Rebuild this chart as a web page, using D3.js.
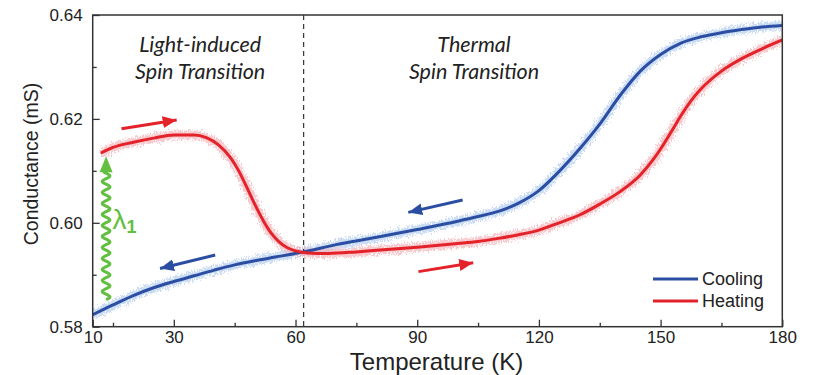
<!DOCTYPE html>
<html>
<head>
<meta charset="utf-8">
<script src="https://cdn.jsdelivr.net/npm/d3@7/dist/d3.min.js"></script>
<style>
  html, body { margin: 0; padding: 0; background: #fff; }
  svg { display: block; }
</style>
</head>
<body>
<svg id="chart" width="813" height="375"></svg>
<script>
// Conductance vs temperature, cooling and heating sweeps
const coolingT = [10, 15, 20, 25, 30, 35, 40, 45, 50, 55, 62, 70, 80, 90, 100, 105, 110, 115, 120, 125, 130, 135, 140, 145, 150, 155, 160, 165, 170, 175, 180];
const coolingG = [0.5823, 0.5842, 0.5860, 0.5875, 0.5887, 0.5898, 0.5909, 0.5919, 0.5927, 0.5934, 0.5944, 0.5958, 0.5972, 0.5987, 0.6003, 0.6012, 0.6022, 0.6038, 0.6062, 0.6099, 0.6142, 0.6190, 0.6245, 0.6292, 0.6324, 0.6346, 0.6358, 0.6366, 0.6372, 0.6377, 0.6380];

const heatingT = [12, 15, 20, 25, 30, 35, 38, 41, 44, 46, 48, 50, 52, 54, 56, 58, 60, 63, 68, 75, 80, 90, 100, 105, 110, 115, 120, 125, 130, 135, 140, 145, 148, 150, 153, 155, 158, 160, 165, 170, 175, 180];
const heatingG = [0.6134, 0.6145, 0.6155, 0.6163, 0.6169, 0.6169, 0.6164, 0.6150, 0.6125, 0.6100, 0.6068, 0.6035, 0.6005, 0.5980, 0.5963, 0.5952, 0.5946, 0.5942, 0.5941, 0.5944, 0.5947, 0.5953, 0.5960, 0.5964, 0.5970, 0.5977, 0.5986, 0.6000, 0.6015, 0.6036, 0.6060, 0.6092, 0.6120, 0.6142, 0.6180, 0.6206, 0.6240, 0.6258, 0.6292, 0.6316, 0.6335, 0.6352];

const xMajorTicks = [10, 30, 60, 90, 120, 150, 180];
const xMinorTicks = [15, 45, 75, 105, 135, 165];
const yMajorTicks = [0.58, 0.60, 0.62, 0.64];
const yMinorTicks = [0.59, 0.61, 0.63];

const regionBoundaryT = 62;
const regionTitles = [
  { T: 36.5, lines: ["Light-induced", "Spin Transition"] },
  { T: 104, lines: ["Thermal", "Spin Transition"] }
];

// sweep-direction arrows: [T, G] start and end
const sweepArrows = [
  { series: "heating", from: [17.1, 0.6181], to: [30.7, 0.6198] },
  { series: "cooling", from: [40.2, 0.5938], to: [26.6, 0.5912] },
  { series: "cooling", from: [101.2, 0.6044], to: [87.8, 0.6020] },
  { series: "heating", from: [90.3, 0.5906], to: [103.8, 0.5923] }
];

// photo-excitation arrow (λ1) from the cooling branch up to the heating start
const lightArrow = { T: 13.3, from: 0.5852, to: 0.6128 };
const lightLabel = { T: 14.9, G: 0.5988 };

const legendItems = [
  { series: "cooling", label: "Cooling" },
  { series: "heating", label: "Heating" }
];

const colors = {
  cooling: "#2b4ea3",
  heating: "#e4222a",
  coolingRaw: "#a9c7ee",
  heatingRaw: "#f4a5ab",
  light: "#62bf40",
  axis: "#333333",
  text: "#222222"
};

const W = 813, H = 375;
const margin = { left: 92.7, top: 15, right: 30.7, bottom: 48.3 };
const plotW = W - margin.left - margin.right;
const plotH = H - margin.top - margin.bottom;

const svg = d3.select("#chart");
const defs = svg.append("defs");

// grainy texture for the raw-data bands
const grain = defs.append("filter").attr("id", "grain")
  .attr("filterUnits", "userSpaceOnUse")
  .attr("x", 0).attr("y", 0).attr("width", W).attr("height", H);
grain.append("feTurbulence").attr("type", "fractalNoise")
  .attr("baseFrequency", "1.3 0.45").attr("numOctaves", 2).attr("seed", 11).attr("result", "noise");
grain.append("feDisplacementMap").attr("in", "SourceGraphic").attr("in2", "noise")
  .attr("scale", 11).attr("xChannelSelector", "R").attr("yChannelSelector", "G").attr("result", "disp");
grain.append("feGaussianBlur").attr("in", "disp").attr("stdDeviation", 0.5);

const clip = defs.append("clipPath").attr("id", "plotClip");
clip.append("rect").attr("x", margin.left).attr("y", margin.top).attr("width", plotW).attr("height", plotH);

function arrowMarker(id, color, len, wid) {
  defs.append("marker").attr("id", id)
    .attr("markerUnits", "userSpaceOnUse")
    .attr("viewBox", `0 ${-wid / 2} ${len} ${wid}`)
    .attr("refX", len).attr("refY", 0)
    .attr("markerWidth", len).attr("markerHeight", wid)
    .attr("orient", "auto")
    .append("path").attr("d", `M0,${-wid / 2}L${len},0L0,${wid / 2}Z`).attr("fill", color);
}
arrowMarker("head-cooling", colors.cooling, 14, 12);
arrowMarker("head-heating", colors.heating, 14, 12);

const x = d3.scaleLinear().domain([10, 180]).range([margin.left, margin.left + plotW]);
const y = d3.scaleLinear().domain([0.58, 0.64]).range([margin.top + plotH, margin.top]);

const cooling = coolingT.map((t, i) => [t, coolingG[i]]);
const heating = heatingT.map((t, i) => [t, heatingG[i]]);

const line = d3.line().x(d => x(d[0])).y(d => y(d[1])).curve(d3.curveMonotoneX);

const plot = svg.append("g").attr("clip-path", "url(#plotClip)");

// raw-data bands
[["coolingRaw", cooling], ["heatingRaw", heating]].forEach(([key, data]) => {
  plot.append("path").attr("d", line(data))
    .attr("fill", "none").attr("stroke", colors[key]).attr("stroke-width", 9)
    .attr("stroke-opacity", 0.6).attr("filter", "url(#grain)");
});

// region boundary
plot.append("line")
  .attr("x1", x(regionBoundaryT)).attr("x2", x(regionBoundaryT))
  .attr("y1", margin.top).attr("y2", margin.top + plotH)
  .attr("stroke", colors.axis).attr("stroke-width", 1.2).attr("stroke-dasharray", "5,4");

// smoothed curves
plot.append("path").attr("d", line(cooling))
  .attr("fill", "none").attr("stroke", colors.cooling).attr("stroke-width", 3);
plot.append("path").attr("d", line(heating))
  .attr("fill", "none").attr("stroke", colors.heating).attr("stroke-width", 3);

// sweep arrows
svg.append("g").selectAll("line").data(sweepArrows).join("line")
  .attr("x1", d => x(d.from[0])).attr("y1", d => y(d.from[1]))
  .attr("x2", d => x(d.to[0])).attr("y2", d => y(d.to[1]))
  .attr("stroke", d => colors[d.series]).attr("stroke-width", 3)
  .attr("marker-end", d => `url(#head-${d.series})`);

// wavy light arrow
{
  const lx = x(lightArrow.T);
  const yBottom = y(lightArrow.from);
  const yTip = y(lightArrow.to);
  const headLen = 15, headW = 13;
  const yHeadBase = yTip + headLen;
  const period = 11, amp = 3.8;
  const pts = [];
  for (let yy = yBottom; yy >= yHeadBase; yy -= 0.5) {
    pts.push([lx + amp * Math.sin(2 * Math.PI * (yBottom - yy) / period), yy]);
  }
  svg.append("path").attr("d", d3.line()(pts))
    .attr("fill", "none").attr("stroke", colors.light).attr("stroke-width", 3);
  svg.append("path")
    .attr("d", `M${lx - headW / 2},${yHeadBase + 1}L${lx},${yTip}L${lx + headW / 2},${yHeadBase + 1}Z`)
    .attr("fill", colors.light);
  const lab = svg.append("text")
    .attr("x", x(lightLabel.T)).attr("y", y(lightLabel.G))
    .attr("fill", colors.light)
    .attr("font-family", "Liberation Sans, Arial, sans-serif");
  lab.append("tspan").attr("font-size", 28).text("λ");
  lab.append("tspan").attr("font-size", 18).attr("font-weight", "bold").attr("dy", 4).text("1");
}

// axes
const axisFont = "Liberation Sans, Arial, sans-serif";
function styleAxis(g) {
  g.select(".domain").remove();
  g.selectAll(".tick line").attr("stroke", colors.axis).attr("stroke-width", 1.3);
  g.selectAll(".tick text").attr("fill", colors.text).attr("font-size", 17).attr("font-family", axisFont);
}
svg.append("g").attr("transform", `translate(0,${margin.top + plotH})`)
  .call(d3.axisBottom(x).tickValues(xMajorTicks).tickSizeInner(-7).tickSizeOuter(0).tickPadding(4).tickFormat(d3.format("d")))
  .call(styleAxis);
svg.append("g").attr("transform", `translate(0,${margin.top + plotH})`)
  .call(d3.axisBottom(x).tickValues(xMinorTicks).tickSizeInner(-4).tickSizeOuter(0).tickFormat(""))
  .call(styleAxis);
svg.append("g").attr("transform", `translate(${margin.left},0)`)
  .call(d3.axisLeft(y).tickValues(yMajorTicks).tickSizeInner(-7).tickSizeOuter(0).tickPadding(10).tickFormat(d3.format(".2f")))
  .call(styleAxis);
svg.append("g").attr("transform", `translate(${margin.left},0)`)
  .call(d3.axisLeft(y).tickValues(yMinorTicks).tickSizeInner(-4).tickSizeOuter(0).tickFormat(""))
  .call(styleAxis);

// frame
svg.append("rect").attr("x", margin.left).attr("y", margin.top).attr("width", plotW).attr("height", plotH)
  .attr("fill", "none").attr("stroke", colors.axis).attr("stroke-width", 1.5);

// axis titles
svg.append("text").attr("x", margin.left + plotW / 2 - 1).attr("y", 369.5)
  .attr("text-anchor", "middle").attr("fill", colors.text)
  .attr("font-family", axisFont).attr("font-size", 24).text("Temperature (K)");
svg.append("text").attr("transform", `translate(38,164) rotate(-90)`)
  .attr("text-anchor", "middle").attr("fill", colors.text)
  .attr("font-family", axisFont).attr("font-size", 19.5).text("Conductance (mS)");

// region titles
const titles = svg.append("g").attr("font-family", "Lato, 'Open Sans', sans-serif")
  .attr("font-style", "italic").attr("font-size", 21.5).attr("fill", colors.text).attr("text-anchor", "middle");
regionTitles.forEach(r => {
  r.lines.forEach((s, i) => {
    titles.append("text").attr("x", x(r.T)).attr("y", 52 + i * 27).text(s);
  });
});

// legend
const legend = svg.append("g");
legendItems.forEach((d, i) => {
  const ly = 279 + i * 22;
  legend.append("line").attr("x1", 653).attr("x2", 698).attr("y1", ly).attr("y2", ly)
    .attr("stroke", colors[d.series]).attr("stroke-width", 3);
  legend.append("text").attr("x", 702).attr("y", ly + 6).attr("fill", colors.text)
    .attr("font-family", axisFont).attr("font-size", 18).text(d.label);
});
</script>
</body>
</html>
